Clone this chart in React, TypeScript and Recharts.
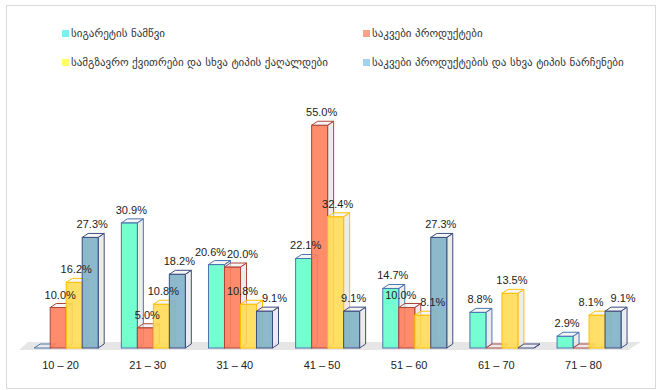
import { Bar, BarChart, LabelList, ReferenceArea, XAxis, YAxis } from "recharts";

const ageGroups = ["10 – 20", "21 – 30", "31 – 40", "41 – 50", "51 – 60", "61 – 70", "71 – 80"];
const cigaretteButts = [0, 30.9, 20.6, 22.1, 14.7, 8.8, 2.9];
const foodProducts = [10.0, 5.0, 20.0, 55.0, 10.0, 0, 0];
const ticketsAndPaper = [16.2, 10.8, 10.8, 32.4, 8.1, 13.5, 8.1];
const foodLeftovers = [27.3, 18.2, 9.1, 9.1, 27.3, 0, 9.1];

const seriesNames = [
  "სიგარეტის ნამწვი",
  "საკვები პროდუქტები",
  "სამგზავრო ქვითრები და სხვა ტიპის ქაღალდები",
  "საკვები პროდუქტების და სხვა ტიპის ნარჩენები",
];

const seriesValues = [cigaretteButts, foodProducts, ticketsAndPaper, foodLeftovers];

const data = ageGroups.map((g, i) => ({
  group: g,
  s1: cigaretteButts[i],
  s2: foodProducts[i],
  s3: ticketsAndPaper[i],
  s4: foodLeftovers[i],
}));

const series = [
  { key: "s1", fill: "#66ffcc", edge: "#4a74b0", legend: "#78f2ee" },
  { key: "s2", fill: "#ff7f5c", edge: "#b0453a", legend: "#f9a287" },
  { key: "s3", fill: "#ffdc55", edge: "#ffc000", legend: "#ffff6a" },
  { key: "s4", fill: "#7fb3c6", edge: "#3d4d80", legend: "#a4d2ee" },
];

const DX = 6;
const DY = 4;

function Bar3D(props: any) {
  const { x, y, width, height, color, edge } = props;
  const h = Math.max(0, height || 0);
  const top = `${x},${y} ${x + DX},${y - DY} ${x + width + DX},${y - DY} ${x + width},${y}`;
  const side = `${x + width},${y} ${x + width + DX},${y - DY} ${x + width + DX},${y + h - DY} ${x + width},${y + h}`;
  return (
    <g>
      <polygon points={side} fill="#e4e4e4" fillOpacity={0.7} stroke={edge} strokeWidth={1} />
      {h > 0 && (
        <rect x={x} y={y} width={width} height={h} fill={color} fillOpacity={0.9} stroke={edge} strokeWidth={1} />
      )}
      <polygon points={top} fill="#eeeeee" fillOpacity={0.6} stroke={edge} strokeWidth={1} />
    </g>
  );
}

function Floor(props: any) {
  const { x, y, width, height } = props;
  const front = y + height;
  const pts = `${x - 3},${front} ${x + width - 4},${front} ${x + width + 9},${front - 8} ${x + 6},${front - 8}`;
  return <polygon points={pts} fill="#e6e6e6" />;
}

// nudge neighbouring labels apart when their heights are close (Excel does similar)
function labelShift(k: number, i: number) {
  const v = seriesValues[k][i];
  const close = (o: number) => o > 0 && Math.abs(o - v) < 3.2;
  const prev = k > 0 ? seriesValues[k - 1][i] : 0;
  const next = k < seriesValues.length - 1 ? seriesValues[k + 1][i] : 0;
  let shift = 0;
  if (close(next)) shift -= 8;
  if (close(prev)) shift += 8;
  return shift;
}

function ValueLabel(props: any) {
  const { x, y, width, value, index, k } = props;
  if (!value) return null;
  const shift = typeof index === "number" ? labelShift(k, index) : 0;
  return (
    <text
      x={x + width / 2 + 2 + shift}
      y={y - 9}
      textAnchor="middle"
      fontSize={11}
      fontFamily="Liberation Sans, DejaVu Sans, sans-serif"
      fill="#222"
    >
      {value.toFixed(1)}%
    </text>
  );
}

function LegendBox() {
  const cols = [62, 363];
  const rows = [33, 62];
  return (
    <div style={{ position: "absolute", left: 0, top: 0, width: 657, height: 80 }}>
      {series.map((s, i) => (
        <div
          key={s.key}
          style={{
            position: "absolute",
            left: cols[i % 2],
            top: rows[Math.floor(i / 2)] - 8,
            height: 16,
            display: "flex",
            alignItems: "center",
            whiteSpace: "nowrap",
            fontFamily: "DejaVu Sans, sans-serif",
            fontSize: 11,
            color: "#333",
          }}
        >
          <span style={{ width: 7, height: 7, background: s.legend, marginRight: 2, display: "inline-block" }} />
          {seriesNames[i]}
        </div>
      ))}
    </div>
  );
}

export default function App() {
  return (
    <div style={{ position: "absolute", left: 0, top: 0, width: 657, height: 390, background: "#fff" }}>
      <div
        style={{
          position: "absolute",
          left: 6,
          top: 5,
          width: 648,
          height: 382,
          border: "1px solid #d9d9d9",
        }}
      />
      <LegendBox />
      <div style={{ position: "absolute", left: 0, top: 0 }}>
        <BarChart
          width={657}
          height={390}
          data={data}
          margin={{ top: 105, right: 25, bottom: 12, left: 22 }}
          barCategoryGap="14%"
          barGap={0}
        >
          <XAxis
            dataKey="group"
            axisLine={false}
            tickLine={false}
            interval={0}
            tick={{ fill: "#222", fontSize: 11, fontFamily: "Liberation Sans, sans-serif", dx: -5, dy: 5 }}
          />
          <YAxis hide domain={[0, 60]} />
          <ReferenceArea y1={-0.5} y2={0} ifOverflow="visible" shape={(p: any) => <Floor {...p} />} />
          {series.map((s, k) => (
            <Bar
              key={s.key}
              dataKey={s.key}
              name={seriesNames[k]}
              fill={s.fill}
              isAnimationActive={false}
              shape={(p: any) => <Bar3D {...p} color={s.fill} edge={s.edge} />}
            >
              <LabelList dataKey={s.key} content={(p: any) => <ValueLabel {...p} k={k} />} />
            </Bar>
          ))}
        </BarChart>
      </div>
    </div>
  );
}
